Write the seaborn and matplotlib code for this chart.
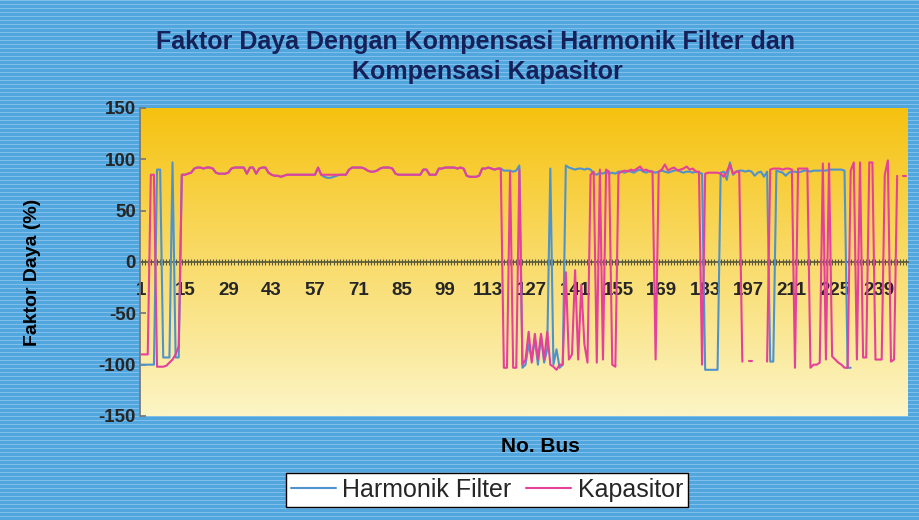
import matplotlib
matplotlib.use("Agg")

import matplotlib.pyplot as plt
import numpy as np
import pandas as pd
import seaborn as sns

nan = np.nan

# bus numbers on the category axis
bus = list(range(1, 249))
tick_labels = [1, 15, 29, 43, 57, 71, 85, 99, 113, 127, 141, 155, 169, 183, 197, 211, 225, 239]
y_ticks = [-150, -100, -50, 0, 50, 100, 150]

# power factor (%) per bus
harmonik_filter = [
    # 1-13
    -100, -100, -100, -100, -100, 90, 90, -93, -93, -93, 97, -93, -93,
    # 14-33
    85, 85, 86, 87, 91, 92, 92, 91, 92, 92, 91, 87, 86, 86, 86, 87, 91, 92, 92, 92,
    # 34-57
    92, 86, 92, 92, 86, 91, 92, 92, 87, 85, 84, 84, 83, 84, 85, 85, 85, 85, 85, 85, 85, 85, 85, 85,
    # 58-83
    92, 85, 83, 82, 82, 83, 84, 85, 85, 85, 90, 92, 92, 92, 92, 91, 89, 88, 88, 89, 91, 92, 92, 92, 91, 86,
    # 84-116
    85, 85, 85, 85, 85, 85, 85, 85, 90, 90, 85, 85, 85, 91, 91, 92, 92, 92, 92, 91, 92, 91,
    84, 83, 83, 83, 84, 91, 91, 92, 91, 90, 91,
    # 117-137
    91, 89, 89, 89, 88, 89, 94, -103, -100, -80, -95, -75, -100, -72, -98, -85, 91, -100, -85, -103, -100,
    # 138-182
    94, 92, 91, 90, 91, 91, 90, 91, 90, 86, 85, 87, 86, 88, 86, 87, 86, 88, 88, 87, 89, 88, 87,
    89, 90, 88, 87, 89, 88, 87, 88, 89, 88, 87, 88, 89, 90, 88, 87, 88, 88, 87, 88, 87, 86,
    # 183-203
    -105, -105, -105, -105, -105, 87, 88, 80, 97, 85, 88, 89, 89, 88, 89, 88, 84, 87, 88, 83, 88,
    # 204-230
    -97, -97, 89, 88, 87, 84, 87, 88, 88, 87, 88, 89, 89, 88, 89, 89, 89, 89, 89, 90, 90, 90, 90, 90,
    89, -103, -103,
    # 231-248
    nan, nan, nan, nan, nan, nan, nan, nan, nan, nan, nan, nan, nan, nan, nan, nan, nan, nan,
]

kapasitor = [
    # 1-13
    -90, -90, -90, 85, 85, -102, -102, -102, -101, -98, -95, -90, -82,
    # 14-33
    85, 85, 86, 87, 91, 92, 92, 91, 92, 92, 91, 87, 86, 86, 86, 87, 91, 92, 92, 92,
    # 34-57
    92, 86, 92, 92, 86, 91, 92, 92, 87, 85, 84, 84, 83, 84, 85, 85, 85, 85, 85, 85, 85, 85, 85, 85,
    # 58-83
    92, 85, 85, 85, 85, 85, 85, 85, 85, 85, 90, 92, 92, 92, 92, 91, 89, 88, 88, 89, 91, 92, 92, 92, 91, 86,
    # 84-116
    85, 85, 85, 85, 85, 85, 85, 85, 90, 90, 85, 85, 85, 91, 91, 92, 92, 92, 92, 91, 92, 91,
    84, 83, 83, 83, 84, 91, 91, 92, 91, 90, 91,
    # 117-137
    91, -103, -103, 88, -103, -103, 90, -100, -95, -68, -98, -70, -95, -70, -95, -68, -100, -102, -105, -100, -100,
    # 138-146
    -10, -95, -90, -8, -95, -22, -80, -98, 85,
    # 147-182
    88, -98, 90, -95, 90, 88, -100, -102, 86, 88, 89, 88, 90, 89, 91, 93, 89, 90, 88, 88, -95, 88,
    90, 95, 89, 91, 92, 89, 90, 91, 93, 90, 91, 88, 88, -100,
    # 183-203
    86, 87, 87, 87, 87, 86, 83, 88, 95, 86, 88, 88, -97, nan, -96, -96, nan, nan, nan, nan, -97,
    # 204-230
    90, 91, 91, 91, 90, 91, 91, 90, -103, 91, 91, 91, 91, -103, -100, -100, -98, 96, -95, 96, -92,
    -95, -98, -100, -103, -103, 89,
    # 231-248
    97, -95, 97, -93, -93, 97, 97, -95, -95, -95, 85, 99, -97, -95, 84, nan, 84, 84,
]

series_names = ["Harmonik Filter", "Kapasitor"]
palette = {"Harmonik Filter": "#4f93cc", "Kapasitor": "#e5409a"}

frames = []
for name, values in zip(series_names, [harmonik_filter, kapasitor]):
    df = pd.DataFrame({"bus": bus, "faktor": values, "series": name})
    # blank cells break the line, like the original spreadsheet chart
    df["seg"] = df["faktor"].isna().cumsum()
    frames.append(df.dropna())
data = pd.concat(frames, ignore_index=True)
data["unit"] = data["series"] + "_" + data["seg"].astype(str)

sns.set_theme(style="white")
plt.rcParams["font.family"] = ["Liberation Sans", "DejaVu Sans"]

fig = plt.figure(figsize=(9.19, 5.2), dpi=100)

# striped blue backdrop of the scanned chart
bg = fig.add_axes([0, 0, 1, 1], zorder=-10)
stripes = np.zeros((520, 1, 3))
stripes[:] = np.array([82, 166, 222]) / 255
stripes[::4] = np.array([128, 190, 236]) / 255
bg.imshow(stripes, aspect="auto", extent=[0, 1, 0, 1])
bg.axis("off")

ax = fig.add_axes([140 / 919, 104 / 520, 768 / 919, 308 / 520])

# yellow gradient plot area
top = np.array([246, 194, 16]) / 255
bottom = np.array([252, 245, 198]) / 255
t = np.linspace(0, 1, 256)[:, None, None]
grad = top * (1 - t) + bottom * t
ax.imshow(grad, aspect="auto", extent=[0.5, 248.5, -150, 150], zorder=0)

sns.lineplot(data=data, x="bus", y="faktor", hue="series", units="unit", estimator=None,
             palette=palette, hue_order=series_names, linewidth=1.5, ax=ax, zorder=3)

ax.set_xlim(0.5, 248.5)
ax.set_ylim(-150, 150)
ax.set_xlabel("")
ax.set_ylabel("")

for side in ["top", "right"]:
    ax.spines[side].set_visible(False)
ax.spines["left"].set_color("#777777")
ax.spines["bottom"].set_position(("data", 0))
ax.spines["bottom"].set_color("#5a5a3a")
ax.spines["bottom"].set_zorder(2)

ax.set_xticks(tick_labels)
ax.set_xticklabels([str(v) for v in tick_labels], fontsize=13.5, fontweight="bold")
ax.set_xticks(bus, minor=True)
ax.tick_params(axis="x", which="both", direction="inout", length=5, width=0.8,
               color="#5a5a3a", pad=12, bottom=True)
ax.set_yticks(y_ticks)
ax.set_yticklabels([str(v) for v in y_ticks], fontsize=13.5, fontweight="bold")
ax.tick_params(axis="y", direction="in", length=4, color="#777777", pad=3, left=True)

fig.text(476 / 919, 1 - 42 / 520, "Faktor Daya Dengan Kompensasi Harmonik Filter dan",
         ha="center", va="center", fontsize=18, fontweight="bold", color="#16215a")
fig.text(487 / 919, 1 - 72 / 520, "Kompensasi Kapasitor",
         ha="center", va="center", fontsize=18, fontweight="bold", color="#16215a")
fig.text(33 / 919, 1 - 272 / 520, "Faktor Daya (%)", rotation=90,
         ha="center", va="center", fontsize=14, fontweight="bold", color="black")
fig.text(540 / 919, 1 - 447 / 520, "No. Bus",
         ha="center", va="center", fontsize=15, fontweight="bold", color="black")

handles, labels = ax.get_legend_handles_labels()
leg = ax.legend(handles, labels, loc="center", bbox_to_anchor=(487 / 919, 1 - 490 / 520),
                bbox_transform=fig.transFigure, ncol=2, fontsize=18, frameon=True,
                fancybox=False, edgecolor="black", facecolor="white", framealpha=1,
                handlelength=1.8, columnspacing=0.6, borderpad=0.2, handletextpad=0.25)
leg.get_frame().set_linewidth(1.0)

fig.savefig("out.png", dpi=100)
